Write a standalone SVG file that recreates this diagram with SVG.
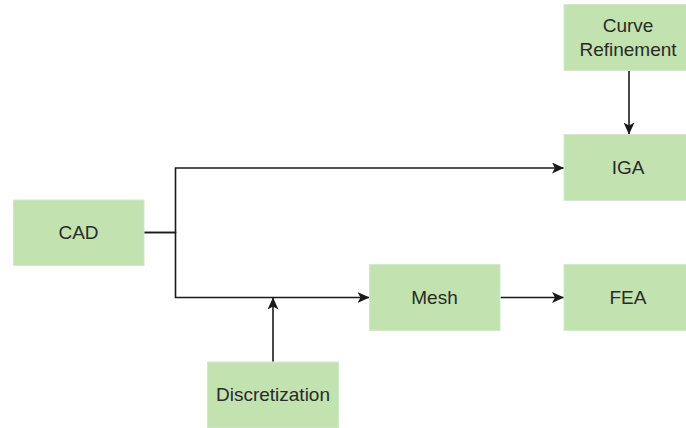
<svg xmlns="http://www.w3.org/2000/svg" width="686" height="428" viewBox="0 0 686 428">
  <style>
    .box { fill: #c2e2b0; stroke: #d3e9cc; stroke-width: 1; }
    .lbl { font-family: "Liberation Sans", Arial, sans-serif; font-size: 19px; fill: #2a2a2a; text-anchor: middle; dominant-baseline: central; }
    .edge { fill: none; stroke: #1a1a1a; stroke-width: 1.6; }
  </style>
  <defs>
    <marker id="arrow" markerUnits="userSpaceOnUse" viewBox="0 0 12 11" refX="12" refY="5.5" markerWidth="12" markerHeight="11" orient="auto">
      <path d="M0,0 L12,5.5 L0,11 L3,5.5 Z" fill="#1a1a1a"/>
    </marker>
  </defs>
  <rect width="686" height="428" fill="#ffffff"/>

  <g id="connectors">
    <path class="edge" d="M144,232.5 H175.5 V168 H564" marker-end="url(#arrow)"/>
    <path class="edge" d="M144,232.5 H175.5 V297.5 H369.5" marker-end="url(#arrow)"/>
    <path class="edge" d="M273,362 V297.5" marker-end="url(#arrow)"/>
    <path class="edge" d="M629,70.5 V134.5" marker-end="url(#arrow)"/>
    <path class="edge" d="M500.5,297.5 H564" marker-end="url(#arrow)"/>
  </g>

  <g id="cad">
    <rect class="box" x="13.5" y="200" width="130.5" height="65.5"/>
    <text class="lbl" x="78.5" y="232.5">CAD</text>
  </g>
  <g id="curve-refinement">
    <rect class="box" x="564" y="4.5" width="130" height="66"/>
    <text class="lbl" x="628" y="25">Curve</text>
    <text class="lbl" x="628" y="49.5">Refinement</text>
  </g>
  <g id="iga">
    <rect class="box" x="564" y="134.5" width="130" height="66"/>
    <text class="lbl" x="628" y="167.5">IGA</text>
  </g>
  <g id="mesh">
    <rect class="box" x="369.5" y="264.5" width="130.5" height="66"/>
    <text class="lbl" x="434.5" y="297.5">Mesh</text>
  </g>
  <g id="fea">
    <rect class="box" x="564" y="264.5" width="130" height="66"/>
    <text class="lbl" x="628" y="297.5">FEA</text>
  </g>
  <g id="discretization">
    <rect class="box" x="207.5" y="362" width="131" height="66"/>
    <text class="lbl" x="273" y="394.5">Discretization</text>
  </g>
</svg>
